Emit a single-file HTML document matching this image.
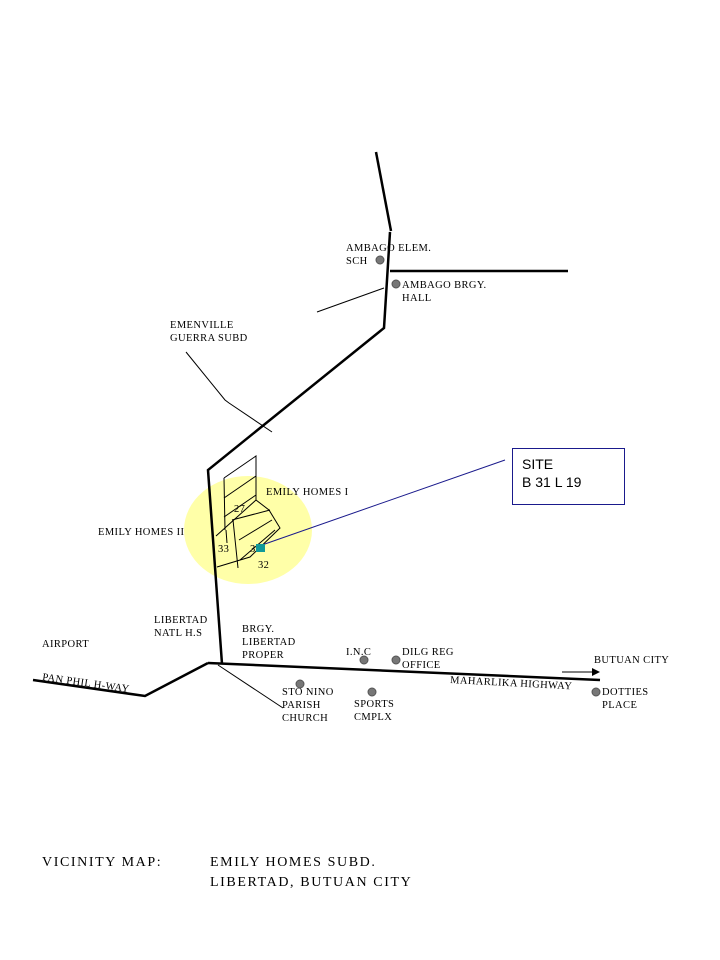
<!DOCTYPE html>
<html><head><style>body{margin:0;background:#fff}svg{display:block}text{font-family:"Liberation Serif",serif;fill:#000}</style></head>
<body>
<svg width="720" height="960" viewBox="0 0 720 960" xmlns="http://www.w3.org/2000/svg">
<ellipse cx="248" cy="530" rx="64" ry="54" fill="#ffff99" opacity="0.85"/>
<g stroke="#000" fill="none" stroke-width="2.5">
<polyline points="376,152 391,231"/>
<polyline points="390,232 384,328 208,470 222,664"/>
<polyline points="208,663 600,680"/>
<polyline points="208,663 145,696 33,680"/>
<line x1="390" y1="271" x2="568" y2="271"/>
</g>
<g stroke="#000" fill="none" stroke-width="1">
<line x1="218" y1="665" x2="283" y2="708"/>
<line x1="317" y1="312" x2="384" y2="288"/>
<polyline points="186,352 225,400 229,403 272,432"/>
<polyline points="224,478 256,456 256,500 269,510 280,528 250,557 217,567"/>
<polyline points="224,478 225,530"/>
<line x1="224" y1="498" x2="256" y2="476"/>
<line x1="224" y1="517" x2="256" y2="495"/>
<line x1="216" y1="536" x2="256" y2="500"/>
<line x1="232" y1="520" x2="270" y2="510"/>
<line x1="233" y1="520" x2="238" y2="568"/>
<line x1="239" y1="540" x2="272" y2="520"/>
<line x1="240" y1="560" x2="275" y2="530"/>
<line x1="226" y1="530" x2="227" y2="543"/>
<line x1="562" y1="672" x2="595" y2="672"/>
</g>
<polygon points="600,672 592,668 592,676" fill="#000"/>
<line x1="505" y1="460" x2="262" y2="545" stroke="#1a1a8c" stroke-width="1"/>
<rect x="256" y="544" width="9" height="8" fill="#119999"/>
<rect x="512.5" y="448.5" width="112" height="56" fill="#fff" stroke="#1a1a8c"/>
<text x="522" y="469" style="font-family:'Liberation Sans',sans-serif" font-size="14">SITE</text>
<text x="522" y="487" style="font-family:'Liberation Sans',sans-serif" font-size="14">B 31 L 19</text>
<g fill="#777" stroke="#555" stroke-width="1">
<circle cx="380" cy="260" r="4"/><circle cx="396" cy="284" r="4"/>
<circle cx="364" cy="660" r="4"/><circle cx="396" cy="660" r="4"/>
<circle cx="300" cy="684" r="4"/><circle cx="372" cy="692" r="4"/>
<circle cx="596" cy="692" r="4"/>
</g>
<g font-size="10.5" letter-spacing="0.4">
<text x="346" y="251">AMBAGO ELEM.</text><text x="346" y="264">SCH</text>
<text x="402" y="288">AMBAGO BRGY.</text><text x="402" y="301">HALL</text>
<text x="170" y="328">EMENVILLE</text><text x="170" y="341">GUERRA SUBD</text>
<text x="266" y="495">EMILY HOMES I</text>
<text x="98" y="535">EMILY HOMES II</text>
<text x="234" y="512">27</text><text x="218" y="552">33</text><text x="250" y="552">3</text><text x="258" y="568">32</text>
<text x="154" y="623">LIBERTAD</text><text x="154" y="636">NATL H.S</text>
<text x="242" y="632">BRGY.</text><text x="242" y="645">LIBERTAD</text><text x="242" y="658">PROPER</text>
<text x="42" y="647">AIRPORT</text>
<text x="346" y="655">I.N.C</text>
<text x="402" y="655">DILG REG</text><text x="402" y="668">OFFICE</text>
<text x="594" y="663">BUTUAN CITY</text>
<text x="282" y="695">STO NINO</text><text x="282" y="708">PARISH</text><text x="282" y="721">CHURCH</text>
<text x="354" y="707">SPORTS</text><text x="354" y="720">CMPLX</text>
<text x="602" y="695">DOTTIES</text><text x="602" y="708">PLACE</text>
<text x="450" y="683" transform="rotate(3 450 683)">MAHARLIKA HIGHWAY</text>
<text x="42" y="680" transform="rotate(8 42 680)">PAN PHIL H-WAY</text>
</g>
<g font-size="14" letter-spacing="1.6">
<text x="42" y="866">VICINITY MAP:</text>
<text x="210" y="866">EMILY HOMES SUBD.</text>
<text x="210" y="886">LIBERTAD, BUTUAN CITY</text>
</g>
</svg>
</body></html>
